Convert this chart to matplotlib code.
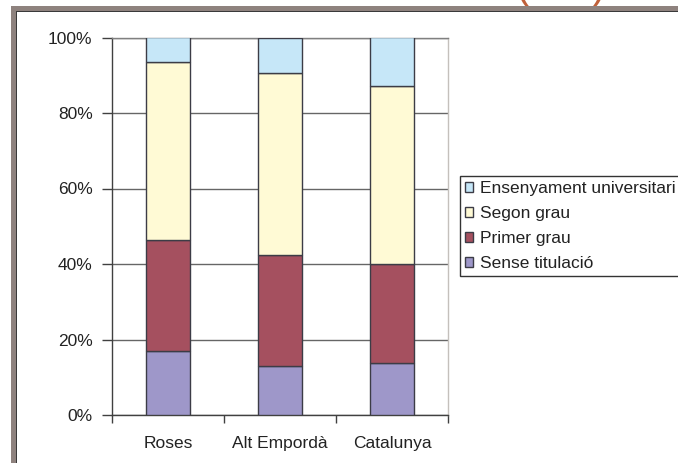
import matplotlib
matplotlib.use("Agg")
import matplotlib.pyplot as plt
from matplotlib.patches import Rectangle
import numpy as np

plt.rcParams['font.family'] = ['Liberation Sans', 'DejaVu Sans']

categories = ["Roses", "Alt Empordà", "Catalunya"]
series_names = ["Sense titulació", "Primer grau", "Segon grau", "Ensenyament universitari"]
sense_titulacio = [17.0, 13.1, 13.7]
primer_grau = [29.4, 29.3, 26.3]
segon_grau = [47.2, 48.3, 47.2]
universitari = [6.4, 9.3, 12.8]
ytick_labels = ["0%", "20%", "40%", "60%", "80%", "100%"]

colors = ["#9E97C9", "#A5505F", "#FFFAD5", "#C6E7F8"]
series = [sense_titulacio, primer_grau, segon_grau, universitari]

W, H = 678, 463
fig = plt.figure(figsize=(W / 100, H / 100), dpi=100)

# decorative partial title parentheses (cut off at top)
fig.text(515 / W, 1 + 2 / H, "(", fontsize=30, color="#C0603A", va="baseline", ha="left", zorder=0)
fig.text(606 / W, 1 + 2 / H, ")", fontsize=30, color="#C0603A", va="baseline", ha="right", zorder=0)

# frame
def px_rect(x0, y0, x1, y1, color, z):
    fig.patches.append(Rectangle((x0 / W, 1 - y1 / H), (x1 - x0) / W, (y1 - y0) / H,
                                 transform=fig.transFigure, facecolor=color,
                                 edgecolor="none", zorder=z))

px_rect(11, 6, 16, H, "#8E827E", 5)
px_rect(11, 6, W, 11, "#8E827E", 5)
px_rect(16, 11, 17.3, H, "#3A3A3A", 6)
px_rect(16, 11, W, 12.3, "#3A3A3A", 6)

ax = fig.add_axes([112 / W, 1 - 415 / H, 336 / W, 377.5 / H])
x = np.arange(len(categories))
bottom = np.zeros(len(categories))
handles = []
for name, vals, c in zip(series_names, series, colors):
    b = ax.bar(x, vals, width=0.4, bottom=bottom, color=c, edgecolor="#3C3C46",
               linewidth=1.0, label=name, zorder=3)
    handles.append(b)
    bottom = bottom + np.array(vals)

ax.set_xlim(-0.5, 2.5)
ax.set_ylim(0, 100)
ax.set_yticks(np.arange(0, 101, 20))
ax.set_yticklabels(ytick_labels)
ax.yaxis.grid(True, color="#666666", linewidth=1.0, zorder=0)
ax.set_axisbelow(True)

ax.set_xticks(x)
ax.set_xticklabels(categories)
ax.set_xticks([-0.5, 0.5, 1.5, 2.5], minor=True)
ax.tick_params(axis="x", which="major", length=0, pad=15, labelsize=12.5, labelcolor="#222222")
ax.tick_params(axis="x", which="minor", length=6, width=1, color="#404040", direction="out")
ax.tick_params(axis="y", length=7, width=1, color="#404040", pad=7, labelsize=12.5, labelcolor="#222222")

ax.spines["left"].set_color("#404040")
ax.spines["bottom"].set_color("#404040")
ax.spines["top"].set_color("#808080")
ax.spines["right"].set_color("#C4C0BC")
for s in ax.spines.values():
    s.set_linewidth(1.0)

leg = fig.legend(handles[::-1], series_names[::-1], loc="upper left",
                 bbox_to_anchor=(460 / W, 1 - 176 / H), bbox_transform=fig.transFigure,
                 fontsize=12.5, frameon=True, fancybox=False, borderaxespad=0,
                 handlelength=0.45, handleheight=0.45, handletextpad=0.42,
                 borderpad=0.3, labelspacing=0.575)
leg.get_frame().set_edgecolor("#000000")
leg.get_frame().set_linewidth(1.0)
for t in leg.get_texts():
    t.set_color("#222222")

fig.savefig("out.png", dpi=100)
